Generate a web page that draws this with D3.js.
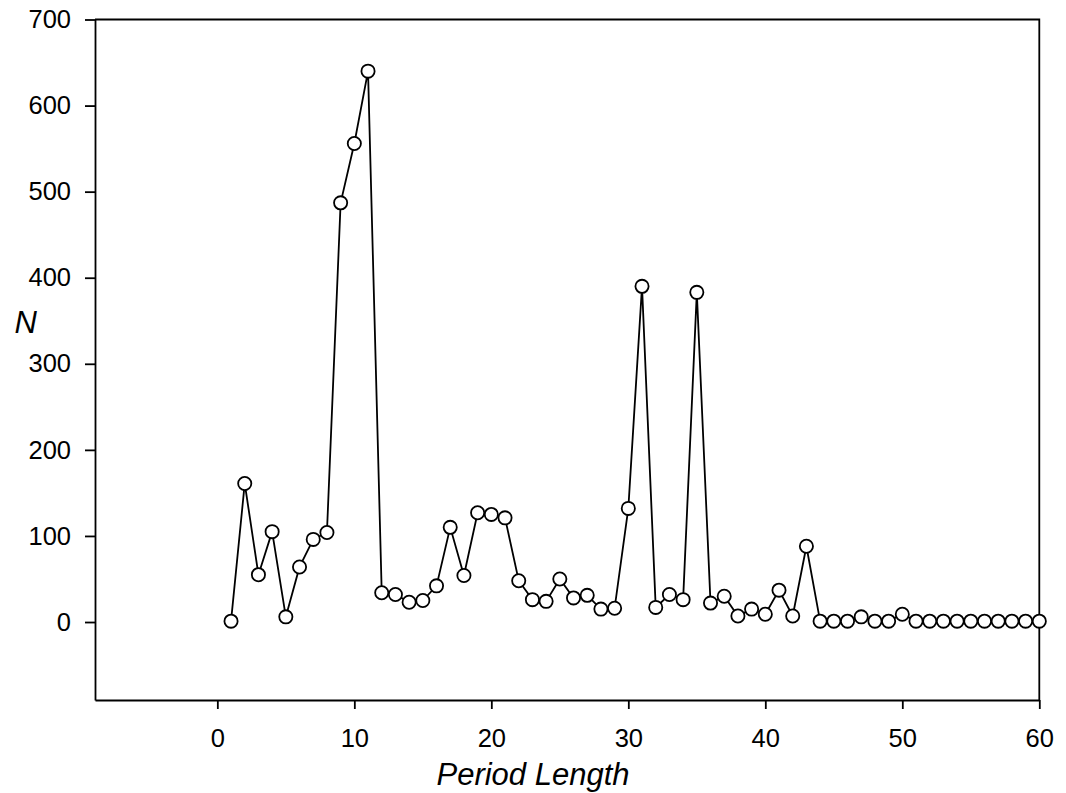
<!DOCTYPE html>
<html>
  <head>
    <meta charset="utf-8" />
    <title>Period Length</title>
    <script src="https://d3js.org/d3.v7.min.js"></script>
    <style>
      body {
        margin: 0;
        background: #fff;
      }
      svg text {
        font-family: "Liberation Sans", Arial, sans-serif;
        fill: #000;
      }
    </style>
  </head>
  <body>
    <svg id="chart"></svg>

    <script>
      // period lengths 1..60 and counts
      var periods = d3.range(1, 61);
      var counts = [
        1, 161, 55, 105, 6, 64, 96, 104, 487, 556,
        640, 34, 32, 23, 25, 42, 110, 54, 127, 125,
        121, 48, 26, 24, 50, 28, 31, 15, 16, 132,
        390, 17, 32, 26, 383, 22, 30, 7, 15, 9,
        37, 7, 88, 1, 1, 1, 6, 1, 1, 9,
        1, 1, 1, 1, 1, 1, 1, 1, 1, 1
      ];
      var xTicks = [0, 10, 20, 30, 40, 50, 60];
      var yTicks = [0, 100, 200, 300, 400, 500, 600, 700];

      var data = periods.map(function(p, i) {
        return { period: p, n: counts[i] };
      });

      var width = 1066;
      var height = 793;
      var margin = { top: 19.5, right: 26.7, bottom: 93, left: 95 };

      var svg = d3.select("#chart")
        .attr("width", width)
        .attr("height", height);

      var x = d3.scaleLinear()
        .domain([-8.93, 60])
        .range([margin.left, width - margin.right]);

      var y = d3.scaleLinear()
        .domain([-90.6, 700])
        .range([height - margin.bottom, margin.top]);

      // frame (top and right sides)
      svg.append("path")
        .attr("d", "M" + x.range()[0] + "," + y(700) +
                   "H" + x.range()[1] +
                   "V" + y.range()[0])
        .attr("fill", "none")
        .attr("stroke", "#000")
        .attr("stroke-width", 1.8);

      var yAxis = d3.axisLeft(y)
        .tickValues(yTicks)
        .tickSize(10)
        .tickPadding(14)
        .tickSizeOuter(0);

      var xAxis = d3.axisBottom(x)
        .tickValues(xTicks)
        .tickSize(9)
        .tickPadding(20)
        .tickSizeOuter(0);

      var gy = svg.append("g")
        .attr("transform", "translate(" + margin.left + ",0)")
        .call(yAxis);

      var gx = svg.append("g")
        .attr("transform", "translate(0," + (height - margin.bottom) + ")")
        .call(xAxis);

      [gx, gy].forEach(function(g) {
        g.selectAll("path, line")
          .attr("stroke", "#000")
          .attr("stroke-width", 1.8);
        g.selectAll("text")
          .attr("font-size", "25.5px")
          .attr("font-family", "Liberation Sans, Arial, sans-serif")
          .attr("fill", "#000");
      });

      // axis titles
      svg.append("text")
        .attr("x", width / 2)
        .attr("y", 785)
        .attr("text-anchor", "middle")
        .attr("font-size", "31px")
        .attr("font-style", "italic")
        .text("Period Length");

      svg.append("text")
        .attr("x", 25.7)
        .attr("y", 332.7)
        .attr("text-anchor", "middle")
        .attr("font-size", "31px")
        .attr("font-style", "italic")
        .text("N");

      var line = d3.line()
        .x(function(d) { return x(d.period); })
        .y(function(d) { return y(d.n); });

      svg.append("path")
        .datum(data)
        .attr("d", line)
        .attr("fill", "none")
        .attr("stroke", "#000")
        .attr("stroke-width", 1.8);

      svg.append("g").selectAll("circle")
        .data(data)
        .enter().append("circle")
        .attr("cx", function(d) { return x(d.period); })
        .attr("cy", function(d) { return y(d.n); })
        .attr("r", 6.6)
        .attr("fill", "#fff")
        .attr("stroke", "#000")
        .attr("stroke-width", 1.8);
    </script>
  </body>
</html>
